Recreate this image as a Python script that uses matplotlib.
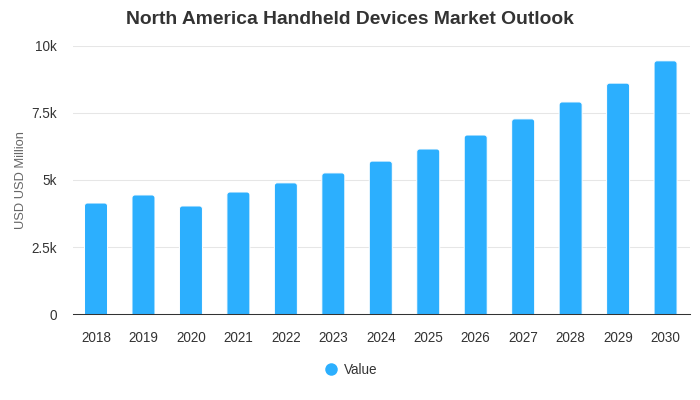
import matplotlib
matplotlib.use('Agg')
import matplotlib.pyplot as plt
from matplotlib.lines import Line2D
from matplotlib.patches import FancyBboxPatch

plt.rcParams['font.family'] = ['Liberation Sans', 'DejaVu Sans']

# Values
years = ['2018', '2019', '2020', '2021', '2022', '2023', '2024', '2025', '2026', '2027', '2028', '2029', '2030']
values = [4140, 4440, 4030, 4550, 4890, 5260, 5700, 6150, 6670, 7270, 7900, 8600, 9430]
y_ticks = [0, 2500, 5000, 7500, 10000]
y_tick_labels = ['0', '2.5k', '5k', '7.5k', '10k']

BAR_COLOR = '#2caffe'
TEXT_COLOR = '#333333'

fig = plt.figure(figsize=(7, 4), dpi=100)
ax = fig.add_axes([73 / 700, (400 - 314.3) / 400, 617 / 700, 268.8 / 400])
ax.set_xlim(-0.485, len(years) - 0.485)
ax.set_ylim(0, 10000)

# Rounded top corners: the box runs a bit below zero and the axes clip it
bar_width = 23 / 47.46
aspect = (10000 / 268.8) / (1 / 47.46)
for i, v in enumerate(values):
    ax.add_patch(FancyBboxPatch((i - bar_width / 2, -200), bar_width, v + 200,
                                boxstyle='round,pad=0,rounding_size=0.06',
                                mutation_aspect=aspect, facecolor=BAR_COLOR,
                                edgecolor='white', linewidth=0.72, zorder=2))

ax.set_yticks(y_ticks)
ax.set_yticklabels(y_tick_labels)
ax.set_xticks(range(len(years)))
ax.set_xticklabels(years)
ax.tick_params(axis='both', length=0, labelsize=9.75, labelcolor=TEXT_COLOR)
ax.tick_params(axis='y', pad=11.5)
ax.tick_params(axis='x', pad=12)

ax.grid(axis='y', color='#e6e6e6', linewidth=0.75, zorder=0)
ax.set_axisbelow(True)
for side in ['top', 'right', 'left']:
    ax.spines[side].set_visible(False)
ax.spines['bottom'].set_color(TEXT_COLOR)
ax.spines['bottom'].set_linewidth(0.75)
ax.spines['bottom'].set_zorder(3)

ax.set_ylabel('USD USD Million', fontsize=9.25, color='#666666')
ax.yaxis.set_label_coords(-46 / 617, 0.5)

fig.text(350 / 700, 1 - 19 / 400, 'North America Handheld Devices Market Outlook',
         ha='center', va='center', fontsize=13.9, fontweight='bold', color=TEXT_COLOR)

handle = Line2D([], [], linestyle='none', marker='o', markersize=9,
                markerfacecolor=BAR_COLOR, markeredgecolor='none')
fig.legend([handle], ['Value'], loc='center', bbox_to_anchor=(347.5 / 700, 1 - 370 / 400),
           frameon=False, fontsize=9.75, labelcolor=TEXT_COLOR, handletextpad=0.0)

fig.savefig('out.png', dpi=100)
